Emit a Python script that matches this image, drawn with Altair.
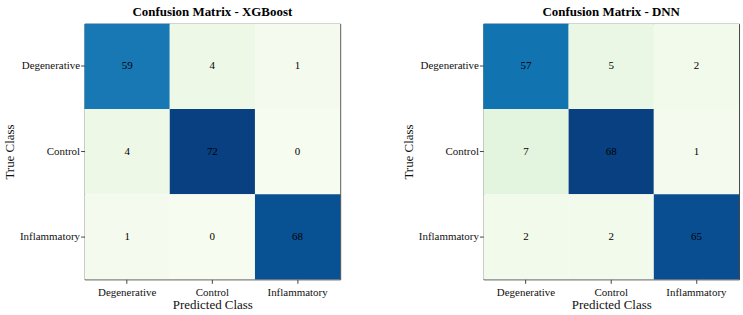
import altair as alt
import pandas as pd

classes = ["Degenerative", "Control", "Inflammatory"]
xgb_values = [[59, 4, 1], [4, 72, 0], [1, 0, 68]]
dnn_values = [[57, 5, 2], [7, 68, 1], [2, 2, 65]]

# matplotlib GnBu anchor colours
gnbu = ["#f7fcf0", "#e0f3db", "#ccebc5", "#a8ddb5", "#7bccc4",
        "#4eb3d3", "#2b8cbe", "#0868ac", "#084081"]


def make_df(mat):
    rows = []
    for i, t in enumerate(classes):
        for j, p in enumerate(classes):
            rows.append({"true": t, "pred": p, "count": mat[i][j]})
    return pd.DataFrame(rows)


FONT = "Liberation Serif"


def panel(mat, title):
    df = make_df(mat)
    vmax = max(max(r) for r in mat)
    domain = [vmax * k / 8 for k in range(9)]
    base = alt.Chart(df)
    rect = base.mark_rect().encode(
        x=alt.X("pred:N", sort=classes, title="Predicted Class",
                axis=alt.Axis(labelAngle=0, labelFontSize=11, titleFontSize=13,
                              titleFontWeight="normal", labelFont=FONT, titleFont=FONT,
                              labelColor="#111", titleColor="#111", tickColor="#444",
                              tickSize=4, domain=False, titlePadding=1, labelPadding=3)),
        y=alt.Y("true:N", sort=classes, title="True Class",
                axis=alt.Axis(labelFontSize=11, titleFontSize=13, titleFontWeight="normal",
                              labelFont=FONT, titleFont=FONT, labelColor="#111",
                              titleColor="#111", tickColor="#444", tickSize=4,
                              domain=False, titlePadding=3, labelPadding=1)),
        color=alt.Color("count:Q",
                        scale=alt.Scale(domain=domain, range=gnbu, interpolate="rgb"),
                        legend=None),
    )
    text = base.mark_text(font=FONT, fontSize=11, color="#000").encode(
        x=alt.X("pred:N", sort=classes),
        y=alt.Y("true:N", sort=classes),
        text="count:Q",
    )
    return (rect + text).properties(
        width=257, height=257,
        title=alt.TitleParams(title, font=FONT, fontSize=13, fontWeight="bold",
                              color="#000", offset=5),
    )


chart = alt.hconcat(
    panel(xgb_values, "Confusion Matrix - XGBoost"),
    panel(dnn_values, "Confusion Matrix - DNN"),
    spacing=61,
).resolve_scale(color="independent").configure_view(
    stroke="#444", strokeWidth=1
).configure_scale(bandPaddingInner=0, bandPaddingOuter=0).properties(
    padding={"left": 3, "top": 4, "right": 3, "bottom": 5}
)

chart.save("out.html", embed_options={"renderer": "svg", "actions": False})
